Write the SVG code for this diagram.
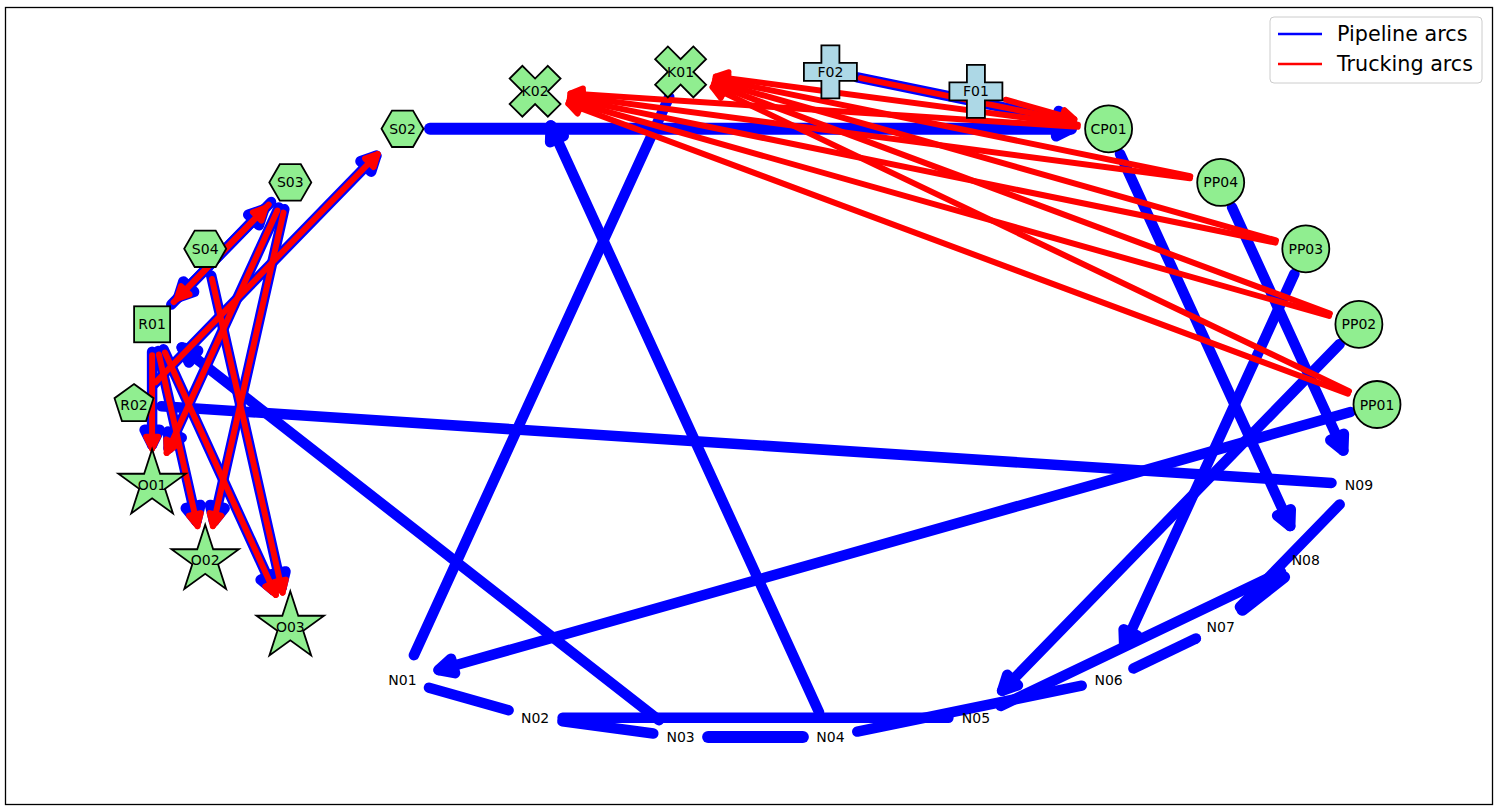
<svg xmlns="http://www.w3.org/2000/svg" xmlns:xlink="http://www.w3.org/1999/xlink" width="1497" height="810" viewBox="0 0 1497 810">
  <style>
    .pipe { stroke: #0000ff; stroke-width: 10.5; stroke-linecap: round; fill: none; }
    .pipe.h { marker-end: url(#headBlue); }
    .pipe.w { stroke-width: 12; }
    .truck { stroke: #ff0000; stroke-width: 6; stroke-linecap: round; fill: none; marker-end: url(#headRed); }
    .node { fill: #90ee90; stroke: #000000; stroke-width: 1.8; }
    .supply { fill: #add8e6; }
    .lbl { font-family: "DejaVu Sans", "Liberation Sans", sans-serif; font-size: 14px; text-anchor: middle; fill: #000000; }
    .leg { font-family: "DejaVu Sans", "Liberation Sans", sans-serif; font-size: 20.7px; fill: #000000; }
  </style>
  <defs>
    <marker id="headBlue" markerUnits="userSpaceOnUse" viewBox="-20 -12 24 24" markerWidth="24" markerHeight="24" refX="0" refY="0" orient="auto" overflow="visible">
      <path d="M0,0 L-15,-7.5 L-15,7.5 Z" fill="#0000ff" stroke="#0000ff" stroke-width="10.5" stroke-linejoin="round"/>
    </marker>
    <marker id="headRed" markerUnits="userSpaceOnUse" viewBox="-14 -8 16 16" markerWidth="16" markerHeight="16" refX="0" refY="0" orient="auto" overflow="visible">
      <path d="M0,0 L-12,-6 L-12,6 Z" fill="#ff0000" stroke="#ff0000" stroke-width="6" stroke-linejoin="round"/>
    </marker>
    <circle id="circ" r="23.5"/>
    <path id="plus" d="M-9,-26.5H9V-9H26.5V9H9V26.5H-9V9H-26.5V-9H-9Z"/>
    <path id="cross" d="M12.73,-25.46L25.46,-12.73L12.73,0L25.46,12.73L12.73,25.46L0,12.73L-12.73,25.46L-25.46,12.73L-12.73,0L-25.46,-12.73L-12.73,-25.46L0,-12.73Z"/>
    <path id="hex" d="M-21,0L-10.5,-18.2L10.5,-18.2L21,0L10.5,18.2L-10.5,18.2Z"/>
    <rect id="sq" x="-18" y="-18" width="36" height="36"/>
    <path id="pent" d="M0,-20.5L19.5,-6.33L12.05,16.58L-12.05,16.58L-19.5,-6.33Z"/>
    <path id="star" d="M0,-35.5L7.97,-10.97L33.76,-10.97L12.9,4.19L20.87,28.72L0,13.56L-20.87,28.72L-12.9,4.19L-33.76,-10.97L-7.97,-10.97Z"/>
  </defs>

  <rect x="0" y="0" width="1497" height="810" fill="#ffffff"/>
  <rect x="5.5" y="7.5" width="1487" height="797" fill="none" stroke="#000000" stroke-width="1.3"/>

  <g id="connectors">
    <g id="pipeline-arcs">
      <line class="pipe h w" x1="430" y1="128.8" x2="1071.1" y2="128.8"/>
      <line class="pipe h" x1="857.3" y1="77.4" x2="1071.9" y2="121.3"/>
      <line class="pipe h" x1="1120" y1="153.8" x2="1290.2" y2="526.1"/>
      <line class="pipe h" x1="1232.1" y1="207.4" x2="1343.3" y2="450.6"/>
      <line class="pipe h" x1="1294.4" y1="273.8" x2="1124.2" y2="646.1"/>
      <line class="pipe h" x1="1339.7" y1="344" x2="1002.1" y2="690.8"/>
      <line class="pipe h" x1="1350.5" y1="412" x2="438.6" y2="670"/>
      <line class="pipe h" x1="819" y1="712.1" x2="550.7" y2="125.4"/>
      <line class="pipe h" x1="658.9" y1="720.2" x2="181.7" y2="347.4"/>
      <line class="pipe h" x1="152.1" y1="351.8" x2="152.1" y2="444.7"/>
      <line class="pipe h" x1="158.1" y1="351.1" x2="196.4" y2="521.2"/>
      <line class="pipe h" x1="163.5" y1="349.3" x2="273.7" y2="590.3"/>
      <line class="pipe h" x1="278.9" y1="207.4" x2="168.7" y2="448.3"/>
      <line class="pipe h" x1="284.3" y1="209.2" x2="214" y2="521.2"/>
      <line class="pipe h" x1="211.2" y1="275.6" x2="281.5" y2="587.7"/>
      <line class="pipe h" x1="153.2" y1="384.8" x2="376.3" y2="155.7"/>
      <line class="pipe h" x1="171.3" y1="304.6" x2="264.1" y2="209.3"/>
      <line class="pipe h" x1="271.1" y1="202.1" x2="178.3" y2="297.4"/>
      <line class="pipe" x1="669.2" y1="96.9" x2="413.9" y2="655.2"/>
      <line class="pipe" x1="161.4" y1="406.3" x2="1331.5" y2="482.9"/>
      <line class="pipe" x1="429" y1="687.7" x2="508.6" y2="710.2"/>
      <line class="pipe" x1="562.4" y1="721.3" x2="653.3" y2="733.5"/>
      <line class="pipe" x1="562.6" y1="717.7" x2="948.4" y2="717.7"/>
      <line class="pipe w" x1="708.1" y1="737.1" x2="802.9" y2="737.1"/>
      <line class="pipe" x1="857.3" y1="731.6" x2="1081.7" y2="685.7"/>
      <line class="pipe" x1="1000.7" y1="705.9" x2="1281" y2="572"/>
      <line class="pipe" x1="1133.4" y1="668.4" x2="1195.9" y2="638.5"/>
      <line class="pipe w" x1="1242.4" y1="609.8" x2="1284.1" y2="577.1"/>
      <line class="pipe" x1="1339.7" y1="504.4" x2="1239.9" y2="607"/>
    </g>
    <g id="trucking-arcs">
      <line class="truck" x1="152.1" y1="355.3" x2="152.1" y2="448.7"/>
      <line class="truck" x1="158.9" y1="354.5" x2="197.5" y2="526.1"/>
      <line class="truck" x1="165" y1="352.5" x2="275.8" y2="594.9"/>
      <line class="truck" x1="277.4" y1="210.6" x2="166.7" y2="452.9"/>
      <line class="truck" x1="283.5" y1="212.6" x2="212.9" y2="526.1"/>
      <line class="truck" x1="212" y1="279" x2="282.6" y2="592.6"/>
      <line class="truck" x1="155.6" y1="382.3" x2="377.7" y2="154.2"/>
      <line class="truck" x1="173.7" y1="302.1" x2="265.5" y2="207.8"/>
      <line class="truck" x1="268.7" y1="204.6" x2="176.9" y2="298.9"/>
      <line class="truck" x1="1005.7" y1="99.7" x2="1074.4" y2="119.2"/>
      <line class="truck" x1="860.8" y1="78.1" x2="1073.8" y2="121.7"/>
      <line class="truck" x1="1077.9" y1="124.7" x2="715.8" y2="76.6"/>
      <line class="truck" x1="1077.7" y1="126.8" x2="570.5" y2="93.6"/>
      <line class="truck" x1="1349" y1="391.1" x2="712.6" y2="87.2"/>
      <line class="truck" x1="1329.9" y1="313.5" x2="713.9" y2="84.3"/>
      <line class="truck" x1="1276" y1="240.4" x2="714.8" y2="81.6"/>
      <line class="truck" x1="1190.3" y1="176.2" x2="715.4" y2="79"/>
      <line class="truck" x1="1347.9" y1="393.7" x2="568.4" y2="103.7"/>
      <line class="truck" x1="1329.1" y1="315.9" x2="569.3" y2="101"/>
      <line class="truck" x1="1275.4" y1="242.6" x2="569.9" y2="98.4"/>
      <line class="truck" x1="1190" y1="178.3" x2="570.3" y2="96"/>
    </g>
  </g>

  <g id="PP01"><use href="#circ" x="1377" y="404.5" class="node"/><text class="lbl" x="1377" y="409.5">PP01</text></g>
  <g id="PP02"><use href="#circ" x="1358.9" y="324.3" class="node"/><text class="lbl" x="1358.9" y="329.3">PP02</text></g>
  <g id="PP03"><use href="#circ" x="1305.8" y="248.8" class="node"/><text class="lbl" x="1305.8" y="253.8">PP03</text></g>
  <g id="PP04"><use href="#circ" x="1220.7" y="182.4" class="node"/><text class="lbl" x="1220.7" y="187.4">PP04</text></g>
  <g id="CP01"><use href="#circ" x="1108.6" y="128.8" class="node"/><text class="lbl" x="1108.6" y="133.8">CP01</text></g>
  <g id="F01"><use href="#plus" x="975.9" y="91.3" class="node supply"/><text class="lbl" x="975.9" y="96.3">F01</text></g>
  <g id="F02"><use href="#plus" x="830.4" y="71.9" class="node supply"/><text class="lbl" x="830.4" y="76.9">F02</text></g>
  <g id="K01"><use href="#cross" x="680.6" y="71.9" class="node"/><text class="lbl" x="680.6" y="76.9">K01</text></g>
  <g id="K02"><use href="#cross" x="535.1" y="91.3" class="node"/><text class="lbl" x="535.1" y="96.3">K02</text></g>
  <g id="S02"><use href="#hex" x="402.5" y="128.8" class="node"/><text class="lbl" x="402.5" y="133.8">S02</text></g>
  <g id="S03"><use href="#hex" x="290.3" y="182.4" class="node"/><text class="lbl" x="290.3" y="187.4">S03</text></g>
  <g id="S04"><use href="#hex" x="205.2" y="248.8" class="node"/><text class="lbl" x="205.2" y="253.8">S04</text></g>
  <g id="R01"><use href="#sq" x="152.1" y="324.3" class="node"/><text class="lbl" x="152.1" y="329.3">R01</text></g>
  <g id="R02"><use href="#pent" x="134" y="404.5" class="node"/><text class="lbl" x="134" y="409.5">R02</text></g>
  <g id="O01"><use href="#star" x="152.1" y="484.7" class="node"/><text class="lbl" x="152.1" y="489.7">O01</text></g>
  <g id="O02"><use href="#star" x="205.2" y="560.2" class="node"/><text class="lbl" x="205.2" y="565.2">O02</text></g>
  <g id="O03"><use href="#star" x="290.3" y="626.7" class="node"/><text class="lbl" x="290.3" y="631.7">O03</text></g>
  <g id="N01"><text class="lbl" x="402.5" y="685.2">N01</text></g>
  <g id="N02"><text class="lbl" x="535.1" y="722.7">N02</text></g>
  <g id="N03"><text class="lbl" x="680.6" y="742.1">N03</text></g>
  <g id="N04"><text class="lbl" x="830.4" y="742.1">N04</text></g>
  <g id="N05"><text class="lbl" x="975.9" y="722.7">N05</text></g>
  <g id="N06"><text class="lbl" x="1108.6" y="685.2">N06</text></g>
  <g id="N07"><text class="lbl" x="1220.7" y="631.7">N07</text></g>
  <g id="N08"><text class="lbl" x="1305.8" y="565.2">N08</text></g>
  <g id="N09"><text class="lbl" x="1358.9" y="489.7">N09</text></g>

  <g id="legend">
    <rect x="1270" y="17" width="212" height="66" rx="4" fill="#ffffff" fill-opacity="0.8" stroke="#cccccc" stroke-width="1"/>
    <line x1="1278" y1="34" x2="1322" y2="34" stroke="#0000ff" stroke-width="2.6"/>
    <text class="leg" x="1337" y="41">Pipeline arcs</text>
    <line x1="1278" y1="64" x2="1322" y2="64" stroke="#ff0000" stroke-width="2.6"/>
    <text class="leg" x="1337" y="71">Trucking arcs</text>
  </g>
</svg>
